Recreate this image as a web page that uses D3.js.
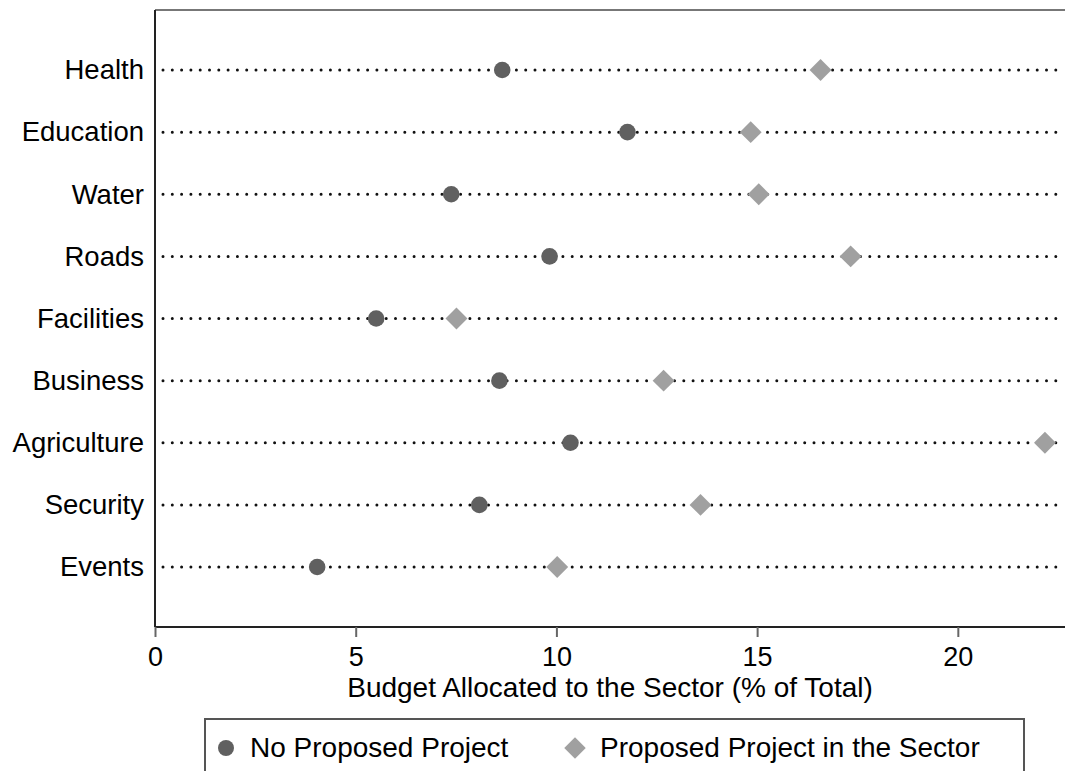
<!DOCTYPE html>
<html>
<head>
<meta charset="utf-8">
<script src="https://d3js.org/d3.v7.min.js"></script>
<style>
  body { margin: 0; background: #fff; }
  svg { display: block; font-family: "Liberation Sans", Arial, sans-serif; }
</style>
</head>
<body>
<div id="chart"></div>
<script>
// Sectors, top to bottom
var sectors = ["Health", "Education", "Water", "Roads", "Facilities", "Business", "Agriculture", "Security", "Events"];
// Budget share (% of total) with no proposed project in the sector
var noProject = [8.65, 11.77, 7.38, 9.83, 5.51, 8.58, 10.35, 8.08, 4.04];
// Budget share (% of total) with a proposed project in the sector
var withProject = [16.58, 14.84, 15.04, 17.33, 7.51, 12.67, 22.17, 13.59, 10.02];
var xTicks = [0, 5, 10, 15, 20];

var W = 1065, H = 771;
var margin = { top: 10, right: 0, bottom: 144, left: 155 };
var w = W - margin.left - margin.right;
var h = H - margin.top - margin.bottom;

var svg = d3.select('#chart').append('svg')
  .attr('width', W)
  .attr('height', H);

var g = svg.append('g')
  .attr('transform', 'translate(' + margin.left + ',' + margin.top + ')');

var x = d3.scaleLinear()
  .domain([0, 22.67])
  .range([0, w]);

var y = d3.scalePoint()
  .domain(sectors)
  .range([60, 557]);

// top border of plot region
g.append('line')
  .attr('x1', 0).attr('x2', w)
  .attr('y1', 0).attr('y2', 0)
  .attr('stroke', '#777').attr('stroke-width', 2);

// dotted guide lines
g.append('g')
  .selectAll('line')
  .data(sectors)
  .enter().append('line')
  .attr('x1', 8).attr('x2', w)
  .attr('y1', function (d) { return y(d); })
  .attr('y2', function (d) { return y(d); })
  .attr('stroke', '#111')
  .attr('stroke-width', 3)
  .attr('stroke-linecap', 'round')
  .attr('stroke-dasharray', '0 9.3');

// x axis
var xAxis = g.append('g')
  .attr('transform', 'translate(0,' + h + ')')
  .call(d3.axisBottom(x).tickValues(xTicks).tickSize(10).tickPadding(10).tickFormat(d3.format('d')));
xAxis.select('.domain').attr('stroke', '#222').attr('stroke-width', 2).attr('d', 'M0,0H' + w);
xAxis.selectAll('.tick line').attr('stroke', '#666').attr('stroke-width', 2);
xAxis.selectAll('.tick text').attr('font-size', 27).attr('fill', '#000')
  .attr('font-family', '"Liberation Sans", Arial, sans-serif');

// y axis
var yAxis = g.append('g')
  .call(d3.axisLeft(y).tickSize(0).tickPadding(11));
yAxis.select('.domain').attr('stroke', '#222').attr('stroke-width', 2).attr('d', 'M0,0V' + h);
yAxis.selectAll('.tick text').attr('font-size', 27.5).attr('fill', '#000')
  .attr('font-family', '"Liberation Sans", Arial, sans-serif');

// axis title
g.append('text')
  .attr('x', (x(0) + x(22.67)) / 2)
  .attr('y', h + 70)
  .attr('text-anchor', 'middle')
  .attr('font-size', 28)
  .text('Budget Allocated to the Sector (% of Total)');

var diamond = d3.symbol().type(d3.symbolSquare).size(240);

// proposed project markers (diamonds)
g.append('g')
  .selectAll('path')
  .data(withProject)
  .enter().append('path')
  .attr('d', diamond)
  .attr('transform', function (d, i) { return 'translate(' + x(d) + ',' + y(sectors[i]) + ') rotate(45)'; })
  .attr('fill', '#a0a0a0');

// no project markers (circles)
g.append('g')
  .selectAll('circle')
  .data(noProject)
  .enter().append('circle')
  .attr('cx', function (d) { return x(d); })
  .attr('cy', function (d, i) { return y(sectors[i]); })
  .attr('r', 8.3)
  .attr('fill', '#606060');

// legend
var leg = svg.append('g').attr('transform', 'translate(205,719)');
leg.append('rect')
  .attr('x', 0).attr('y', 0)
  .attr('width', 819).attr('height', 70)
  .attr('fill', 'none').attr('stroke', '#555').attr('stroke-width', 2);
leg.append('circle')
  .attr('cx', 21).attr('cy', 29).attr('r', 8).attr('fill', '#606060');
leg.append('text')
  .attr('x', 45).attr('y', 38).attr('font-size', 28)
  .text('No Proposed Project');
leg.append('path')
  .attr('d', d3.symbol().type(d3.symbolSquare).size(230))
  .attr('transform', 'translate(370,29) rotate(45)')
  .attr('fill', '#a0a0a0');
leg.append('text')
  .attr('x', 395).attr('y', 38).attr('font-size', 28)
  .text('Proposed Project in the Sector');
</script>
</body>
</html>
